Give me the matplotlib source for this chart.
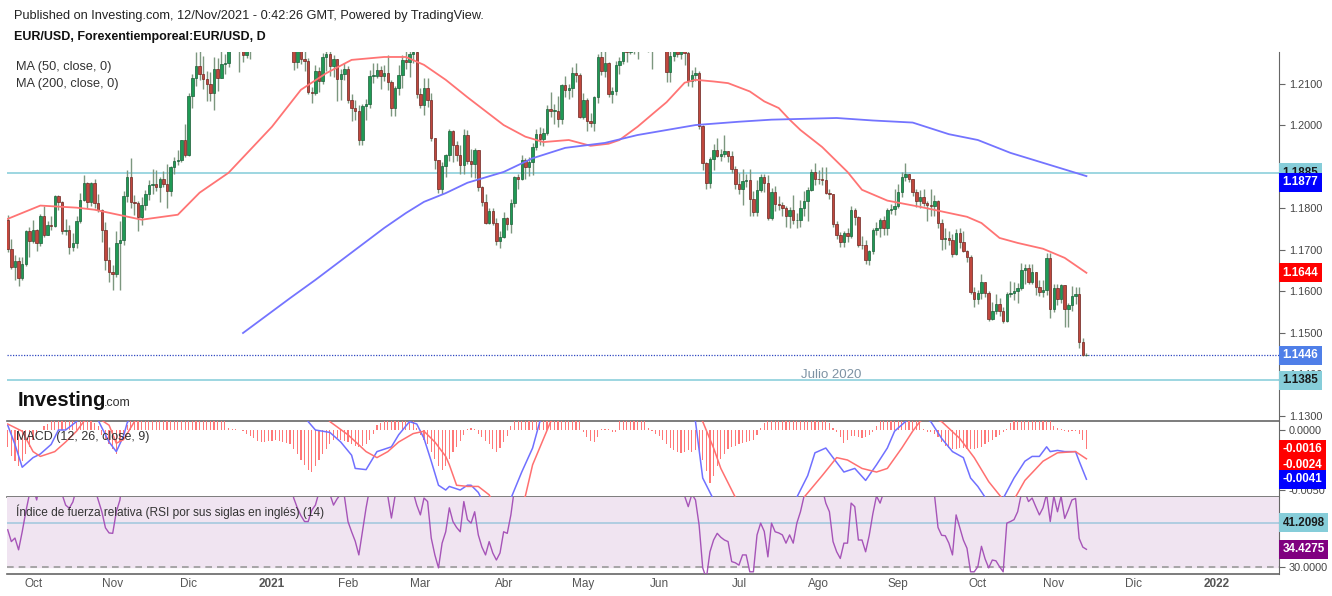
import matplotlib
matplotlib.use("Agg")  # headless
import matplotlib.pyplot as plt
import matplotlib.transforms as mtransforms
import numpy as np
import pandas as pd

plt.rcParams['font.family'] = ['Liberation Sans', 'DejaVu Sans']

# ---- EUR/USD daily candles, 22/Sep/2020 .. 12/Nov/2021 (one per business day) ----
first_day = "2020-09-22"
first_open = 1.1771

close = [
    # Sep 2020
    1.1702, 1.1659, 1.1672, 1.1631, 1.1665, 1.1744, 1.1721,
    # Oct
    1.1747, 1.1716, 1.1782, 1.1735, 1.1760, 1.1757, 1.1828, 1.1814, 1.1745, 1.1747, 1.1705,
    1.1717, 1.1768, 1.1820, 1.1861, 1.1815, 1.1860, 1.1812, 1.1795, 1.1747, 1.1674, 1.1646,
    # Nov
    1.1640, 1.1716, 1.1722, 1.1830, 1.1875, 1.1814, 1.1813, 1.1778, 1.1807, 1.1834, 1.1855,
    1.1859, 1.1850, 1.1869, 1.1857, 1.1842, 1.1899, 1.1914, 1.1916, 1.1963, 1.1928,
    # Dec
    1.2071, 1.2113, 1.2143, 1.2122, 1.2110, 1.2100, 1.2077, 1.2136, 1.2113, 1.2146, 1.2150,
    1.2199, 1.2265, 1.2255, 1.2240, 1.2168, 1.2186, 1.2187, 1.2188, 1.2214, 1.2249, 1.2296, 1.2216,
    # Jan 2021
    1.2216, 1.2250, 1.2297, 1.2326, 1.2272, 1.2220, 1.2151, 1.2207, 1.2159, 1.2155, 1.2080,
    1.2077, 1.2131, 1.2106, 1.2164, 1.2170, 1.2142, 1.2160, 1.2110, 1.2123, 1.2136,
    # Feb
    1.2060, 1.2040, 1.2035, 1.1963, 1.2045, 1.2051, 1.2119, 1.2119, 1.2132, 1.2119,
    1.2126, 1.2103, 1.2040, 1.2090, 1.2120, 1.2156, 1.2152, 1.2170, 1.2175, 1.2076,
    # Mar
    1.2048, 1.2090, 1.2061, 1.1968, 1.1915, 1.1846, 1.1901, 1.1927, 1.1985, 1.1952, 1.1929,
    1.1903, 1.1977, 1.1914, 1.1905, 1.1940, 1.1850, 1.1815, 1.1764, 1.1794, 1.1764, 1.1720, 1.1730,
    # Apr
    1.1776, 1.1762, 1.1812, 1.1874, 1.1871, 1.1915, 1.1899, 1.1911, 1.1946, 1.1979, 1.1966,
    1.1982, 1.2038, 1.2035, 1.2035, 1.2014, 1.2097, 1.2085, 1.2089, 1.2125, 1.2121, 1.2020,
    # May
    1.2061, 1.2010, 1.2004, 1.2067, 1.2164, 1.2130, 1.2149, 1.2075, 1.2081, 1.2144, 1.2155,
    1.2222, 1.2175, 1.2225, 1.2180, 1.2213, 1.2248, 1.2193, 1.2193, 1.2192, 1.2227,
    # Jun
    1.2213, 1.2211, 1.2127, 1.2166, 1.2192, 1.2172, 1.2179, 1.2174, 1.2106, 1.2120, 1.2125,
    1.1997, 1.1908, 1.1860, 1.1918, 1.1940, 1.1925, 1.1930, 1.1937, 1.1925, 1.1895, 1.1857,
    # Jul
    1.1847, 1.1866, 1.1867, 1.1823, 1.1790, 1.1844, 1.1875, 1.1860, 1.1775, 1.1838, 1.1811,
    1.1807, 1.1800, 1.1780, 1.1795, 1.1771, 1.1771, 1.1801, 1.1817, 1.1843, 1.1888, 1.1870,
    # Aug
    1.1869, 1.1868, 1.1836, 1.1833, 1.1761, 1.1734, 1.1718, 1.1740, 1.1732, 1.1795, 1.1779,
    1.1712, 1.1711, 1.1675, 1.1697, 1.1747, 1.1752, 1.1772, 1.1753, 1.1796, 1.1797, 1.1806,
    # Sep
    1.1838, 1.1874, 1.1881, 1.1869, 1.1839, 1.1816, 1.1826, 1.1813, 1.1807, 1.1804, 1.1816,
    1.1763, 1.1725, 1.1727, 1.1724, 1.1690, 1.1740, 1.1719, 1.1696, 1.1682, 1.1597, 1.1580,
    # Oct
    1.1596, 1.1621, 1.1596, 1.1533, 1.1552, 1.1569, 1.1551, 1.1528, 1.1594, 1.1595, 1.1600,
    1.1608, 1.1651, 1.1655, 1.1623, 1.1645, 1.1609, 1.1598, 1.1603, 1.1680, 1.1558,
    # Nov
    1.1608, 1.1581, 1.1614, 1.1556, 1.1566, 1.1587, 1.1594, 1.1478, 1.1446, 1.1446,
]

high = [
    1.1784, 1.1726, 1.1688, 1.1682, 1.1683, 1.1746, 1.1754,
    1.1771, 1.1750, 1.1786, 1.1806, 1.1770, 1.1782, 1.1832, 1.1831, 1.1816, 1.1773, 1.1760,
    1.1740, 1.1780, 1.1836, 1.1880, 1.1864, 1.1864, 1.1870, 1.1834, 1.1797, 1.1766, 1.1707,
    1.1663, 1.1745, 1.1770, 1.1840, 1.1891, 1.1920, 1.1832, 1.1818, 1.1826, 1.1843, 1.1867,
    1.1893, 1.1892, 1.1875, 1.1889, 1.1905, 1.1902, 1.1922, 1.1941, 1.1965, 1.2003,
    1.2077, 1.2122, 1.2176, 1.2178, 1.2167, 1.2130, 1.2128, 1.2163, 1.2162, 1.2178, 1.2170,
    1.2220, 1.2273, 1.2272, 1.2259, 1.2249, 1.2203, 1.2198, 1.2193, 1.2250, 1.2276, 1.2310, 1.2309,
    1.2226, 1.2310, 1.2300, 1.2349, 1.2345, 1.2280, 1.2226, 1.2213, 1.2223, 1.2183, 1.2161,
    1.2092, 1.2145, 1.2140, 1.2173, 1.2190, 1.2190, 1.2169, 1.2160, 1.2136, 1.2150,
    1.2142, 1.2075, 1.2060, 1.2049, 1.2051, 1.2062, 1.2133, 1.2150, 1.2150, 1.2142,
    1.2144, 1.2169, 1.2108, 1.2094, 1.2144, 1.2169, 1.2180, 1.2180, 1.2243, 1.2183,
    1.2090, 1.2114, 1.2113, 1.2078, 1.1970, 1.1915, 1.1910, 1.1930, 1.1990, 1.1988, 1.1962,
    1.1952, 1.1990, 1.1989, 1.1943, 1.1945, 1.1941, 1.1852, 1.1835, 1.1800, 1.1800, 1.1775, 1.1744,
    1.1791, 1.1779, 1.1822, 1.1877, 1.1883, 1.1928, 1.1920, 1.1922, 1.1956, 1.1990, 1.1995,
    1.1994, 1.2048, 1.2080, 1.2050, 1.2070, 1.2098, 1.2117, 1.2100, 1.2140, 1.2150, 1.2125,
    1.2077, 1.2065, 1.2030, 1.2071, 1.2172, 1.2182, 1.2181, 1.2153, 1.2091, 1.2155, 1.2164,
    1.2245, 1.2236, 1.2235, 1.2232, 1.2226, 1.2266, 1.2259, 1.2210, 1.2204, 1.2244,
    1.2254, 1.2220, 1.2213, 1.2185, 1.2200, 1.2197, 1.2196, 1.2218, 1.2182, 1.2132, 1.2141,
    1.2130, 1.2000, 1.1910, 1.1922, 1.1954, 1.1970, 1.1942, 1.1976, 1.1938, 1.1938, 1.1902,
    1.1885, 1.1894, 1.1883, 1.1895, 1.1840, 1.1868, 1.1881, 1.1881, 1.1879, 1.1849, 1.1852,
    1.1829, 1.1815, 1.1805, 1.1803, 1.1831, 1.1788, 1.1820, 1.1840, 1.1851, 1.1893, 1.1909,
    1.1892, 1.1899, 1.1900, 1.1845, 1.1835, 1.1768, 1.1742, 1.1745, 1.1752, 1.1805, 1.1800,
    1.1782, 1.1733, 1.1722, 1.1700, 1.1752, 1.1766, 1.1775, 1.1780, 1.1801, 1.1810, 1.1846,
    1.1857, 1.1887, 1.1909, 1.1883, 1.1869, 1.1845, 1.1844, 1.1845, 1.1816, 1.1845, 1.1831,
    1.1820, 1.1773, 1.1751, 1.1745, 1.1738, 1.1750, 1.1753, 1.1745, 1.1699, 1.1687, 1.1609,
    1.1603, 1.1640, 1.1622, 1.1600, 1.1573, 1.1594, 1.1584, 1.1562, 1.1598, 1.1624, 1.1623,
    1.1620, 1.1668, 1.1665, 1.1666, 1.1665, 1.1645, 1.1626, 1.1626, 1.1692, 1.1692,
    1.1616, 1.1616, 1.1617, 1.1615, 1.1572, 1.1613, 1.1609, 1.1611, 1.1486, 1.1450,
]

low = [
    1.1695, 1.1653, 1.1626, 1.1612, 1.1626, 1.1660, 1.1683,
    1.1716, 1.1696, 1.1708, 1.1730, 1.1735, 1.1746, 1.1754, 1.1795, 1.1737, 1.1735, 1.1689,
    1.1697, 1.1703, 1.1763, 1.1816, 1.1800, 1.1805, 1.1800, 1.1790, 1.1718, 1.1651, 1.1622,
    1.1602, 1.1633, 1.1603, 1.1711, 1.1815, 1.1801, 1.1783, 1.1745, 1.1760, 1.1795, 1.1819,
    1.1835, 1.1840, 1.1815, 1.1850, 1.1801, 1.1830, 1.1881, 1.1903, 1.1912, 1.1922,
    1.1925, 1.2040, 1.2093, 1.2109, 1.2087, 1.2059, 1.2059, 1.2037, 1.2081, 1.2113, 1.2124,
    1.2140, 1.2195, 1.2223, 1.2128, 1.2153, 1.2162, 1.2160, 1.2180, 1.2179, 1.2206, 1.2238, 1.2212,
    1.2210, 1.2212, 1.2229, 1.2264, 1.2250, 1.2192, 1.2132, 1.2138, 1.2148, 1.2130, 1.2074,
    1.2054, 1.2072, 1.2080, 1.2100, 1.2130, 1.2119, 1.2115, 1.2058, 1.2060, 1.2109,
    1.2053, 1.2010, 1.2012, 1.1952, 1.1952, 1.2011, 1.2042, 1.2102, 1.2114, 1.2088,
    1.2105, 1.2084, 1.2023, 1.2022, 1.2073, 1.2090, 1.2134, 1.2116, 1.2149, 1.2066,
    1.2040, 1.2024, 1.2044, 1.1962, 1.1893, 1.1836, 1.1835, 1.1875, 1.1913, 1.1910, 1.1914,
    1.1881, 1.1883, 1.1905, 1.1875, 1.1873, 1.1840, 1.1804, 1.1761, 1.1762, 1.1760, 1.1712, 1.1704,
    1.1729, 1.1746, 1.1740, 1.1802, 1.1846, 1.1867, 1.1870, 1.1877, 1.1880, 1.1940, 1.1951,
    1.1950, 1.1977, 1.2019, 1.2002, 1.1995, 1.2002, 1.2067, 1.2063, 1.2068, 1.2104, 1.2017,
    1.2015, 1.1986, 1.1996, 1.1985, 1.2052, 1.2121, 1.2115, 1.2068, 1.2052, 1.2073, 1.2123,
    1.2147, 1.2152, 1.2170, 1.2170, 1.2160, 1.2200, 1.2178, 1.2175, 1.2135, 1.2186,
    1.2200, 1.2183, 1.2104, 1.2103, 1.2155, 1.2163, 1.2158, 1.2144, 1.2093, 1.2092, 1.2105,
    1.1990, 1.1892, 1.1847, 1.1848, 1.1891, 1.1922, 1.1913, 1.1924, 1.1912, 1.1884, 1.1847,
    1.1835, 1.1807, 1.1850, 1.1781, 1.1781, 1.1782, 1.1838, 1.1838, 1.1772, 1.1772, 1.1792,
    1.1795, 1.1780, 1.1755, 1.1751, 1.1762, 1.1752, 1.1754, 1.1781, 1.1770, 1.1840, 1.1856,
    1.1858, 1.1856, 1.1835, 1.1823, 1.1754, 1.1725, 1.1705, 1.1705, 1.1719, 1.1727, 1.1760,
    1.1705, 1.1702, 1.1665, 1.1664, 1.1690, 1.1734, 1.1730, 1.1735, 1.1735, 1.1785, 1.1784,
    1.1801, 1.1827, 1.1866, 1.1864, 1.1830, 1.1802, 1.1800, 1.1804, 1.1770, 1.1781, 1.1782,
    1.1751, 1.1700, 1.1701, 1.1712, 1.1683, 1.1686, 1.1704, 1.1693, 1.1669, 1.1592, 1.1562,
    1.1569, 1.1580, 1.1586, 1.1528, 1.1530, 1.1545, 1.1541, 1.1524, 1.1525, 1.1586, 1.1578,
    1.1571, 1.1602, 1.1617, 1.1617, 1.1618, 1.1590, 1.1588, 1.1586, 1.1591, 1.1536,
    1.1550, 1.1567, 1.1571, 1.1513, 1.1513, 1.1553, 1.1568, 1.1464, 1.1443, 1.1443,
]

# ---- moving averages, read at selected dates ----
ma50_dates = ["2020-09-22", "2020-10-05", "2020-10-19", "2020-10-26", "2020-11-12", "2020-11-26",
              "2020-12-04", "2020-12-16", "2021-01-01", "2021-01-13", "2021-01-22", "2021-02-02",
              "2021-02-15", "2021-02-23", "2021-03-02", "2021-03-10", "2021-03-18", "2021-04-01",
              "2021-04-09", "2021-04-16", "2021-04-27", "2021-05-05", "2021-05-12", "2021-05-17",
              "2021-05-24", "2021-05-31", "2021-06-03", "2021-06-10", "2021-06-15", "2021-06-22",
              "2021-06-28", "2021-07-06", "2021-07-12", "2021-07-16", "2021-07-21", "2021-07-26",
              "2021-08-03", "2021-08-12", "2021-08-18", "2021-08-27", "2021-09-09", "2021-09-28",
              "2021-10-04", "2021-10-11", "2021-10-18", "2021-10-27", "2021-11-04", "2021-11-12"]
ma50 = [1.1774, 1.1806, 1.1801, 1.1796, 1.1772, 1.1784,
        1.1837, 1.1885, 1.1996, 1.2085, 1.2125, 1.2157,
        1.2164, 1.2164, 1.2145, 1.2109, 1.2067, 1.2000,
        1.1972, 1.1959, 1.1964, 1.1950, 1.1955, 1.1964,
        1.1996, 1.2033, 1.2055, 1.2102, 1.2109, 1.2105,
        1.2101, 1.2081, 1.2057, 1.2041, 1.2013, 1.1988,
        1.1947, 1.1887, 1.1844, 1.1818, 1.1803, 1.1779,
        1.1764, 1.1728, 1.1716, 1.1702, 1.1680, 1.1644]

ma200_dates = ["2020-12-22", "2021-01-08", "2021-01-19", "2021-02-04", "2021-02-15", "2021-02-23",
               "2021-03-02", "2021-03-10", "2021-03-18", "2021-04-01", "2021-04-13", "2021-04-26",
               "2021-05-11", "2021-05-24", "2021-06-03", "2021-06-15", "2021-07-01", "2021-07-14",
               "2021-08-09", "2021-08-23", "2021-09-07", "2021-09-21", "2021-10-01", "2021-10-14",
               "2021-10-27", "2021-11-12"]
ma200 = [1.1499, 1.1583, 1.1627, 1.1706, 1.1752, 1.1788,
         1.1815, 1.1836, 1.1861, 1.1887, 1.1920, 1.1945,
         1.1957, 1.1976, 1.1988, 1.2000, 1.2008, 1.2013,
         1.2017, 1.2011, 1.2006, 1.1978, 1.1964, 1.1933,
         1.1909, 1.1877]

# ---- MACD (12, 26, 9), values in 1e-4 ----
macd_hist = [
    -14, -22, -26, -30, -26, -20, -14,
    -8, -4, 0, 3, 5, 8, 10, 12, 12, 12, 12, 12, 10, 10, 10, 9, 8, 6, 3, -4, -8, -12,
    -16, -20, -10, -3, 4, 8, 12, 14, 15, 15, 15, 14, 14, 13, 13, 12, 12, 12, 12, 13, 14,
    16, 18, 19, 19, 17, 15, 13, 12, 11, 10, 9, 2, 1, 1, 0, -1, -3, -5, -7, -9, -10, -10, -9,
    -9, -8, -9, -10, -11, -12, -16, -20, -25, -29, -33, -35, -30, -25, -20, -16, -12, -8, -7, -8, -9,
    -10, -12, -13, -14, -13, -12, -8, -3, 4, 6, 8, 10, 10, 11, 11, 11, 11, 10, 9, 2,
    -4, -8, -12, -18, -24, -30, -33, -30, -24, -18, -14, -9, -4, 1, 2, 1, -3, -6, -9, -12, -16, -18, -15,
    -10, -5, 3, 8, 12, 15, 17, 18, 18, 17, 16, 15, 14, 13, 12, 12, 11, 10, 10, 9, 9, 8,
    -2, -6, -9, -10, -6, 1, 1, 1, -2, -2, 9, 11, 12, 12, 11, 10, 9, 8, 2, -1, -3,
    -5, -8, -12, -15, -17, -18, -19, -18, -17, -18, -17, -20, -25, -34, -44, -38, -30, -24, -20, -16, -14, -13,
    -12, -11, -10, -9, -8, -4, 2, 6, 10, 12, 14, 15, 16, 16, 16, 15, 15, 14, 14, 13, 12, 11,
    10, 9, 8, 6, 2, -2, -6, -11, -8, -5, -5, -6, -7, -6, -4, -2, 3, 8, 10, 12, 13, 14,
    15, 15, 14, 13, 12, 10, 8, 1, -2, -2, -3, -6, -10, -13, -15, -16, -16, -15, -15, -16, -16, -16,
    -15, -14, -12, -10, -8, -6, -4, -2, 1, 6, 10, 13, 15, 16, 16, 15, 14, 12, 11, 10, 9,
    3, 2, 1, -1, -2, -1, -1, -3, -8, -16,
]

macd_dates = ["2020-09-22", "2020-09-24", "2020-09-28", "2020-10-01", "2020-10-05", "2020-10-08",
              "2020-10-12", "2020-10-14", "2020-10-19", "2020-10-23", "2020-10-27", "2020-10-30",
              "2020-11-03", "2020-11-05", "2020-11-06", "2020-11-13", "2020-12-10", "2021-01-06",
              "2021-01-15", "2021-01-19", "2021-01-25", "2021-01-28", "2021-02-02", "2021-02-03",
              "2021-02-08", "2021-02-11", "2021-02-17", "2021-02-19", "2021-02-24", "2021-02-26",
              "2021-03-02", "2021-03-04", "2021-03-08", "2021-03-10", "2021-03-11", "2021-03-16",
              "2021-03-18", "2021-03-19", "2021-03-23", "2021-03-24", "2021-03-31", "2021-04-05",
              "2021-04-08", "2021-04-13", "2021-04-15", "2021-04-23", "2021-05-20", "2021-06-10",
              "2021-06-15", "2021-06-17", "2021-06-22", "2021-07-01", "2021-07-20", "2021-07-23",
              "2021-07-28", "2021-07-30", "2021-08-04", "2021-08-06", "2021-08-11", "2021-08-16",
              "2021-08-19", "2021-08-24", "2021-08-27", "2021-08-31", "2021-09-03", "2021-09-08",
              "2021-09-14", "2021-09-17", "2021-09-22", "2021-09-27", "2021-09-29", "2021-10-01",
              "2021-10-05", "2021-10-07", "2021-10-12", "2021-10-15", "2021-10-20", "2021-10-22",
              "2021-10-26", "2021-10-28", "2021-10-29", "2021-11-02", "2021-11-04", "2021-11-09",
              "2021-11-10", "2021-11-12"]
macd_line = [4, -12, -31, -23, -20, -12,
             0, 0, 7, 20, 8, -10,
             -18, -5, 6, 30, 60, 70,
             7, 0, -2, -10, -21, -32,
             -33, -18, -14, -4, 7, 5,
             -7, -26, -46, -50, -47, -50,
             -46, -46, -52, -58, -75, -57,
             -35, -15, 7, 30, 35, 20,
             7, -40, -58, -70, -65, -56,
             -38, -19, -15, -23, -35, -32,
             -42, -29, -15, -1, 7, 15,
             7, -7, -18, -23, -40, -47,
             -56, -62, -57, -40, -26, -22,
             -22, -14, -18, -17, -18, -18,
             -26, -41]

signal_dates = ["2020-09-22", "2020-09-28", "2020-10-01", "2020-10-05", "2020-10-09", "2020-10-14",
                "2020-10-19", "2020-10-21", "2020-10-26", "2020-10-30", "2020-11-03", "2020-11-05",
                "2020-11-10", "2020-12-01", "2021-01-04", "2021-01-25", "2021-02-01", "2021-02-08",
                "2021-02-11", "2021-02-16", "2021-02-19", "2021-02-25", "2021-03-02", "2021-03-05",
                "2021-03-10", "2021-03-11", "2021-03-15", "2021-03-18", "2021-03-23", "2021-03-26",
                "2021-03-29", "2021-04-06", "2021-04-09", "2021-04-13", "2021-04-20", "2021-05-10",
                "2021-06-10", "2021-06-17", "2021-06-22", "2021-06-24", "2021-06-30", "2021-07-12",
                "2021-07-27", "2021-08-03", "2021-08-09", "2021-08-12", "2021-08-18", "2021-08-24",
                "2021-08-27", "2021-09-02", "2021-09-07", "2021-09-09", "2021-09-13", "2021-09-17",
                "2021-09-24", "2021-09-30", "2021-10-06", "2021-10-12", "2021-10-15", "2021-10-20",
                "2021-10-27", "2021-11-02", "2021-11-09", "2021-11-12"]
signal_line = [5, -1, -18, -22, -18, -10,
               -1, 7, 12, 4, -11, -8,
               7, 40, 70, 7, -4, -18,
               -23, -18, -10, -3, -1, -10,
               -22, -29, -46, -47, -47, -54,
               -60, -70, -55, -29, 7, 35,
               30, 7, -15, -32, -56, -70,
               -56, -38, -23, -25, -32, -35,
               -32, -15, -1, 7, 12, 7,
               -7, -23, -43, -58, -58, -42,
               -26, -19, -18, -24]

# ---- RSI (14), read at selected dates ----
rsi_dates = ["2020-09-22", "2020-09-23", "2020-09-24", "2020-09-25", "2020-09-28", "2020-09-29",
             "2020-09-30", "2020-10-01", "2020-10-02", "2020-10-05", "2020-10-09", "2020-10-12",
             "2020-10-13", "2020-10-14", "2020-10-15", "2020-10-16", "2020-10-19", "2020-10-21",
             "2020-10-26", "2020-10-27", "2020-10-28", "2020-10-29", "2020-10-30", "2020-11-02",
             "2020-11-03", "2020-11-04", "2020-11-05", "2020-12-01", "2021-01-08", "2021-01-11",
             "2021-01-12", "2021-01-13", "2021-01-14", "2021-01-15", "2021-01-18", "2021-01-19",
             "2021-01-20", "2021-01-22", "2021-01-25", "2021-01-26", "2021-01-27", "2021-01-28",
             "2021-01-29", "2021-02-01", "2021-02-02", "2021-02-03", "2021-02-04", "2021-02-05",
             "2021-02-08", "2021-02-09", "2021-02-12", "2021-02-16", "2021-02-17", "2021-02-18",
             "2021-02-19", "2021-02-24", "2021-02-25", "2021-02-26", "2021-03-01", "2021-03-02",
             "2021-03-03", "2021-03-04", "2021-03-05", "2021-03-08", "2021-03-09", "2021-03-10",
             "2021-03-11", "2021-03-12", "2021-03-15", "2021-03-16", "2021-03-17", "2021-03-18",
             "2021-03-19", "2021-03-22", "2021-03-23", "2021-03-24", "2021-03-25", "2021-03-26",
             "2021-03-29", "2021-03-30", "2021-03-31", "2021-04-01", "2021-04-02", "2021-04-05",
             "2021-04-06", "2021-04-08", "2021-05-20", "2021-06-10", "2021-06-11", "2021-06-14",
             "2021-06-15", "2021-06-16", "2021-06-17", "2021-06-18", "2021-06-21", "2021-06-22",
             "2021-06-23", "2021-06-24", "2021-06-25", "2021-06-28", "2021-06-29", "2021-06-30",
             "2021-07-01", "2021-07-02", "2021-07-05", "2021-07-06", "2021-07-07", "2021-07-08",
             "2021-07-09", "2021-07-12", "2021-07-13", "2021-07-14", "2021-07-15", "2021-07-16",
             "2021-07-19", "2021-07-20", "2021-07-21", "2021-07-22", "2021-07-23", "2021-07-26",
             "2021-07-27", "2021-07-28", "2021-07-30", "2021-08-03", "2021-08-04", "2021-08-05",
             "2021-08-06", "2021-08-09", "2021-08-10", "2021-08-11", "2021-08-12", "2021-08-13",
             "2021-08-16", "2021-08-17", "2021-08-18", "2021-08-19", "2021-08-20", "2021-08-23",
             "2021-08-24", "2021-08-25", "2021-08-26", "2021-08-31", "2021-09-03", "2021-09-10",
             "2021-09-15", "2021-09-16", "2021-09-17", "2021-09-20", "2021-09-21", "2021-09-22",
             "2021-09-23", "2021-09-24", "2021-09-27", "2021-09-28", "2021-09-29", "2021-09-30",
             "2021-10-01", "2021-10-04", "2021-10-05", "2021-10-06", "2021-10-07", "2021-10-08",
             "2021-10-11", "2021-10-12", "2021-10-13", "2021-10-14", "2021-10-15", "2021-10-18",
             "2021-10-19", "2021-10-20", "2021-10-21", "2021-10-22", "2021-10-25", "2021-10-26",
             "2021-10-27", "2021-10-28", "2021-10-29", "2021-11-01", "2021-11-02", "2021-11-03",
             "2021-11-04", "2021-11-05", "2021-11-08", "2021-11-09", "2021-11-10", "2021-11-11",
             "2021-11-12"]
rsi = [39.4, 36.4, 37.3, 34.3, 38.9, 44.0,
       48.5, 50.0, 47.0, 52.0, 56.0, 54.0,
       48.5, 45.7, 44.9, 46.5, 50.0, 58.0,
       50.0, 47.0, 44.0, 39.9, 38.6, 38.5,
       44.0, 47.0, 55.0, 65.0, 52.0, 47.5,
       45.0, 43.0, 41.5, 41.5, 44.4, 45.7,
       49.0, 51.0, 48.5, 45.7, 47.3, 48.5,
       48.0, 41.5, 38.9, 36.5, 33.0, 39.0,
       45.0, 50.0, 55.0, 48.0, 42.4, 48.0,
       52.0, 52.0, 49.0, 45.7, 43.2, 47.5,
       46.6, 37.3, 33.0, 29.7, 36.0, 38.9,
       45.0, 41.5, 40.0, 38.9, 46.6, 42.0,
       41.1, 44.0, 38.1, 35.0, 33.0, 36.4,
       33.5, 31.7, 33.5, 38.9, 38.5, 43.2,
       50.0, 56.0, 62.0, 48.0, 45.3, 48.5,
       47.0, 40.6, 29.7, 27.0, 33.8, 36.8,
       38.5, 37.5, 36.8, 36.4, 31.3, 31.0,
       30.4, 33.0, 33.0, 28.7, 28.7, 38.1,
       41.1, 39.0, 32.5, 41.1, 38.9, 38.6,
       38.1, 36.0, 38.1, 36.0, 41.1, 44.0,
       48.0, 52.0, 58.0, 50.0, 46.2, 44.0,
       36.4, 33.8, 32.1, 36.0, 36.0, 46.2,
       45.3, 36.8, 36.8, 33.8, 38.0, 43.5,
       48.0, 46.2, 49.0, 56.0, 62.0, 55.0,
       48.5, 40.0, 38.0, 37.9, 36.0, 33.0,
       43.2, 40.0, 36.8, 34.7, 28.7, 28.7,
       30.0, 35.2, 32.0, 29.7, 31.7, 31.5,
       30.0, 28.7, 41.1, 41.5, 42.0, 44.0,
       48.5, 49.0, 46.6, 47.5, 45.3, 43.2,
       45.0, 48.5, 41.5, 48.0, 44.0, 48.0,
       42.3, 44.5, 47.0, 47.4, 37.2, 35.0,
       34.4275]

month_starts = ["2020-10-01", "2020-11-02", "2020-12-01", "2021-01-01", "2021-02-01", "2021-03-01",
                "2021-04-01", "2021-05-03", "2021-06-01", "2021-07-01", "2021-08-02", "2021-09-01",
                "2021-10-01", "2021-11-01", "2021-12-01", "2022-01-03"]
month_labels = ["Oct", "Nov", "Dic", "2021", "Feb", "Mar", "Abr", "May", "Jun", "Jul", "Ago",
                "Sep", "Oct", "Nov", "Dic", "2022"]

price_ticks = [1.13, 1.14, 1.15, 1.16, 1.17, 1.18, 1.19, 1.20, 1.21]
level_hi, level_lo = 1.1885, 1.1385
last_rsi_level = 41.2098

# ---------------------------------------------------------------------------
W, H = 1332, 596
calendar = pd.bdate_range(first_day, "2022-03-31")


def pos(dates):
    """bar position of each date on the trading-day axis"""
    return np.array([calendar.get_loc(pd.Timestamp(d)) for d in dates])


def panel(top, bottom):
    return [7 / W, 1 - bottom / H, (1279 - 7) / W, (bottom - top) / H]


fig = plt.figure(figsize=(W / 100, H / 100), dpi=100)
fig.patch.set_facecolor("white")
ax = fig.add_axes(panel(52, 421))
ax_m = fig.add_axes(panel(421, 497), sharex=ax)
ax_r = fig.add_axes(panel(497, 574), sharex=ax)

close = np.array(close)
high = np.array(high)
low = np.array(low)
opens = np.r_[first_open, close[:-1]]
x = np.arange(len(close))
up = close >= opens

# candles
body_lo = np.minimum(opens, close)
body_h = np.maximum(np.abs(close - opens), 0.00004)
ax.vlines(x, np.minimum(low, body_lo), np.maximum(high, body_lo + body_h),
          color="#7c977f", lw=1.0, zorder=2)
ax.bar(x[up], body_h[up], bottom=body_lo[up], width=0.68, color="#1f9a55",
       edgecolor="#1c5e38", lw=0.5, zorder=3)
ax.bar(x[~up], body_h[~up], bottom=body_lo[~up], width=0.68, color="#c0473d",
       edgecolor="#6e2622", lw=0.5, zorder=3)

ax.plot(pos(ma50_dates), ma50, color="#ff7474", lw=1.3, zorder=4)
ax.plot(pos(ma200_dates), ma200, color="#7474ff", lw=1.3, zorder=4)

ax.axhline(level_hi, color="#8ccfdb", lw=1.2, zorder=1)
ax.axhline(level_lo, color="#8ccfdb", lw=1.2, zorder=1)
ax.axhline(close[-1], color="#3048c0", lw=0.9, ls=(0, (1, 1.2)), zorder=1)

ax.set_ylim(1.1287, 1.2176)
ax.set_xlim(-0.2, 351.2)

# MACD panel
hist = np.array(macd_hist) * 1e-4
ax_m.bar(x, hist, width=0.32, color="#ff7878", zorder=2)
ax_m.plot(pos(macd_dates), np.array(macd_line) * 1e-4, color="#7070ff", lw=1.1, zorder=3)
ax_m.plot(pos(signal_dates), np.array(signal_line) * 1e-4, color="#ff7070", lw=1.1, zorder=3)
ax_m.set_ylim(-0.00558, 0.00075)

# RSI panel
ax_r.axhspan(30, 70, color="#f0e4f1", zorder=0)
ax_r.axhline(30, color="#9a9a9a", lw=1.2, ls=(0, (4, 3)), zorder=1)
ax_r.axhline(last_rsi_level, color="#a5c9de", lw=1.2, zorder=1)
ax_r.plot(pos(rsi_dates), rsi, color="#a654b8", lw=1.0, zorder=3)
ax_r.set_ylim(28.14, 47.76)

for a in (ax, ax_m, ax_r):
    a.set_facecolor("none")
    for s in ("left", "top"):
        a.spines[s].set_visible(False)
    a.spines["right"].set_color("#666666")
    a.spines["bottom"].set_color("#666666")
    a.spines["bottom"].set_linewidth(1.2)
    a.yaxis.tick_right()
    a.tick_params(axis="y", length=4, width=0.8, color="#666666", labelsize=7.8,
                  labelcolor="#444444", pad=3)
    a.tick_params(axis="x", length=0)

ax.set_yticks(price_ticks)
ax.set_yticklabels([f"{v:.4f}" for v in price_ticks])
ax_m.set_yticks([0.0, -0.005])
ax_m.set_yticklabels(["0.0000", "-0.0050"])
ax_r.set_yticks([30, 40])
ax_r.set_yticklabels(["30.0000", "40.0000"])

plt.setp(ax.get_xticklabels(), visible=False)
plt.setp(ax_m.get_xticklabels(), visible=False)
ax_r.set_xticks(pos(month_starts))
ax_r.set_xticklabels(month_labels)
ax_r.tick_params(axis="x", labelsize=8.5, labelcolor="#555555", pad=3)
for t in ax_r.get_xticklabels():
    if t.get_text() in ("2021", "2022"):
        t.set_fontweight("bold")


# value tags on the right scale, drawn over the tick labels like the original
def tag(a, y, text, fc, tc="white"):
    tr = mtransforms.blended_transform_factory(fig.transFigure, a.transData)
    a.text(1282.5 / W, y, text, transform=tr, fontsize=8.4, fontweight="bold", color=tc,
           va="center", ha="left", clip_on=False, zorder=10,
           bbox=dict(boxstyle="square,pad=0.3", fc=fc, ec="none"))


tag(ax, level_hi, "1.1885", "#86cdd9", "#1a1a1a")
tag(ax, 1.1862, f"{ma200[-1]:.4f}", "#0000ff")
tag(ax, ma50[-1], f"{ma50[-1]:.4f}", "#ff0000")
tag(ax, close[-1], f"{close[-1]:.4f}", "#4f7fe8")
tag(ax, level_lo, "1.1385", "#86cdd9", "#1a1a1a")
tag(ax_m, hist[-1], f"{hist[-1]:.4f}", "#ff0000")
tag(ax_m, -0.0029, f"{signal_line[-1] * 1e-4:.4f}", "#ff0000")
tag(ax_m, macd_line[-1] * 1e-4, f"{macd_line[-1] * 1e-4:.4f}", "#0000ff")
tag(ax_r, last_rsi_level, "41.2098", "#86cdd9", "#1a1a1a")
tag(ax_r, rsi[-1], f"{rsi[-1]:.4f}", "#800080")

# titles and legends
fig.text(14 / W, 1 - 16 / H,
         "Published on Investing.com, 12/Nov/2021 - 0:42:26 GMT, Powered by TradingView.",
         fontsize=9.2, color="#222222", va="center")
fig.text(14 / W, 1 - 37 / H, "EUR/USD, Forexentiemporeal:EUR/USD, D",
         fontsize=9, fontweight="bold", color="#111111", va="center")
fig.text(16 / W, 1 - 67 / H, "MA (50, close, 0)", fontsize=9.2, color="#333333", va="center")
fig.text(16 / W, 1 - 84 / H, "MA (200, close, 0)", fontsize=9.2, color="#333333", va="center")
fig.text(16 / W, 1 - 437 / H, "MACD (12, 26, close, 9)", fontsize=9, color="#333333", va="center")
fig.text(16 / W, 1 - 512 / H, "Índice de fuerza relativa (RSI por sus siglas en inglés) (14)",
         fontsize=8.6, color="#333333", va="center")
fig.text(831 / W, 1 - 375 / H, "Julio 2020", fontsize=9.5, color="#7d92a3",
         ha="center", va="center")
fig.text(18 / W, 1 - 401 / H, "Investing", fontsize=14.5, fontweight="bold", color="#111111",
         family=["Liberation Sans Narrow", "Liberation Sans"], va="center")
fig.text(104 / W, 1 - 403 / H, ".com", fontsize=9, color="#333333",
         family=["Liberation Sans Narrow", "Liberation Sans"], va="center")

fig.savefig("out.png", dpi=100)
